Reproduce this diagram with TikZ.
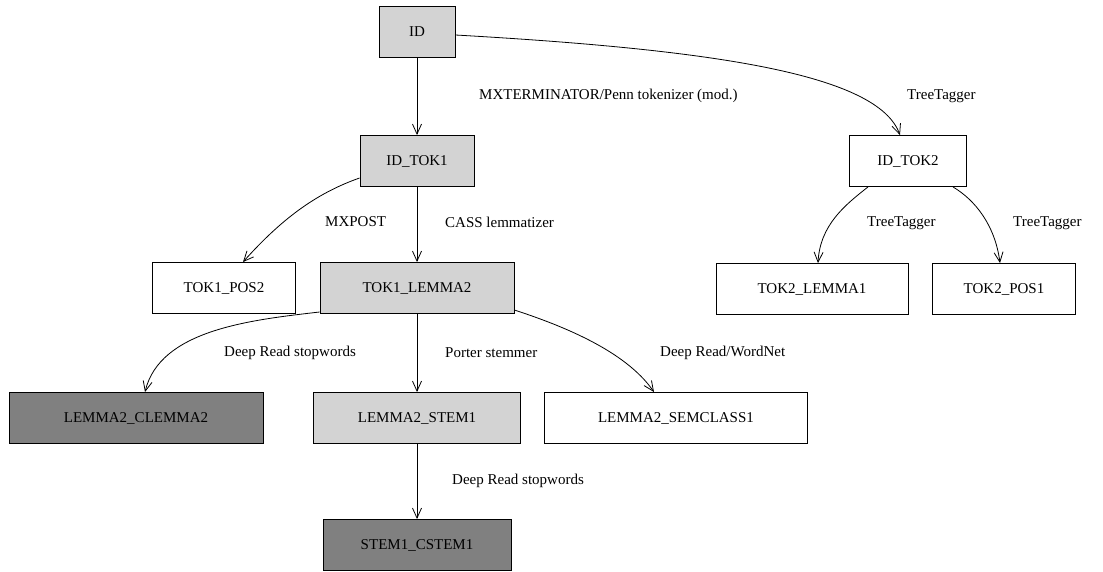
\documentclass[tikz,border=0pt]{standalone}
\usepackage{xcolor}
\usepackage{fontspec}
\setmainfont{Liberation Serif}
\usetikzlibrary{arrows.meta,positioning}
\definecolor{lightbox}{RGB}{211,211,211}
\definecolor{darkbox}{RGB}{128,128,128}

\begin{document}
\begin{tikzpicture}[
    x=1pt, y=-1pt,
    every node/.style={font=\fontsize{15}{17}\selectfont},
    box/.style={rectangle, draw, line width=0.9pt, minimum height=51pt, inner sep=0pt, text centered, fill=white},
    lbl/.style={inner sep=0pt, anchor=west},
    arrow/.style={-{Straight Barb[length=10pt,width=9pt]}, line width=0.8pt}
]
\useasboundingbox (0,0) rectangle (1103,571);

% Nodes
\node[box, fill=lightbox, minimum width=76pt] (id) at (417,32) {ID};
\node[box, fill=lightbox, minimum width=114pt] (idtok1) at (417,161) {ID\_TOK1};
\node[box, minimum width=117pt] (idtok2) at (908,161) {ID\_TOK2};
\node[box, minimum width=143pt] (tok1pos2) at (224,288) {TOK1\_POS2};
\node[box, fill=lightbox, minimum width=194pt] (tok1lemma2) at (417,288) {TOK1\_LEMMA2};
\node[box, minimum width=192pt] (tok2lemma1) at (812,289) {TOK2\_LEMMA1};
\node[box, minimum width=143pt] (tok2pos1) at (1004,289) {TOK2\_POS1};
\node[box, fill=darkbox, minimum width=254pt] (clemma2) at (136,418) {LEMMA2\_CLEMMA2};
\node[box, fill=lightbox, minimum width=207pt] (stem1) at (417,418) {LEMMA2\_STEM1};
\node[box, minimum width=263pt] (semclass1) at (676,418) {LEMMA2\_SEMCLASS1};
\node[box, fill=darkbox, minimum width=188pt] (cstem1) at (417,545) {STEM1\_CSTEM1};

% Labels
\node[lbl] (lmxterm) at (479,96) {MXTERMINATOR/Penn tokenizer (mod.)};
\node[lbl] (ltree0) at (907,96) {TreeTagger};
\node[lbl] (lmxpost) at (325,222) {MXPOST};
\node[lbl] (lcass) at (445,222) {CASS lemmatizer};
\node[lbl] (ltree1) at (867,223) {TreeTagger};
\node[lbl] (ltree2) at (1013,223) {TreeTagger};
\node[lbl] (lstop1) at (224,353) {Deep Read stopwords};
\node[lbl] (lporter) at (445,353) {Porter stemmer};
\node[lbl] (lwordnet) at (660,353) {Deep Read/WordNet};
\node[lbl] (lstop2) at (452,481) {Deep Read stopwords};

% Arrows
\draw[arrow] (id) -- (idtok1);
\draw[arrow] ([yshift=-3pt]id.east) .. controls (720,50) and (878,75) .. ([xshift=-8pt]idtok2.north);
\draw[arrow] ([yshift=-17pt]idtok1.west) .. controls (320,192) and (285,215) .. ([xshift=19pt]tok1pos2.north);
\draw[arrow] (idtok1) -- (tok1lemma2);
\draw[arrow] ([xshift=-40pt]idtok2.south) .. controls (845,205) and (820,225) .. ([xshift=6pt]tok2lemma1.north);
\draw[arrow] ([xshift=45pt]idtok2.south) .. controls (975,200) and (995,225) .. ([xshift=-4pt]tok2pos1.north);
\draw[arrow] ([yshift=-24pt]tok1lemma2.west) .. controls (250,320) and (160,330) .. ([xshift=9pt]clemma2.north);
\draw[arrow] (tok1lemma2) -- (stem1);
\draw[arrow] ([yshift=-22pt]tok1lemma2.east) .. controls (560,325) and (625,350) .. ([xshift=-22pt]semclass1.north);
\draw[arrow] (stem1) -- (cstem1);

\end{tikzpicture}
\end{document}
